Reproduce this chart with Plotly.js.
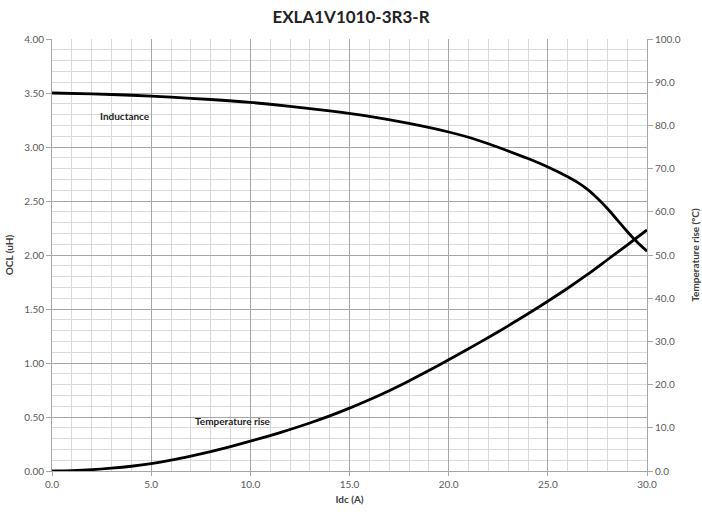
<!DOCTYPE html>
<html>
<head>
<meta charset="utf-8">
<script src="https://cdn.plot.ly/plotly-3.0.1.min.js"></script>
<style>html,body{margin:0;padding:0;background:#fff;}#chart{width:702px;height:514px;}</style>
</head>
<body>
<div id="chart"></div>
<script>
const idcInd = [0,2,4,6,8,10,12,14,16,18,20,21,22,23,24,25,26,26.5,27,27.5,28,28.5,29,29.5,30];
const inductance = [3.500,3.492,3.479,3.461,3.440,3.413,3.377,3.334,3.283,3.218,3.139,3.090,3.030,2.963,2.893,2.815,2.725,2.672,2.607,2.525,2.430,2.325,2.218,2.120,2.035];
const idcTemp = [0,1,2,3,4,5,6,7,8,9,10,11,12,13,14,15,16,17,18,19,20,21,22,23,24,25,26,27,28,29,30];
const tempRise = [0,0.1,0.3,0.65,1.1,1.7,2.5,3.45,4.5,5.65,6.9,8.2,9.6,11.1,12.75,14.55,16.5,18.6,20.85,23.25,25.75,28.3,30.9,33.6,36.4,39.3,42.3,45.5,48.9,52.3,55.8];
const titleText = "EXLA1V1010-3R3-R";
const xTitle = "Idc (A)";
const yTitle = "OCL (uH)";
const y2Title = "Temperature rise (ºC)";
const labelInd = "Inductance";
const labelTemp = "Temperature rise";

const FONT = "Lato, 'Open Sans', sans-serif";
const tickFont = {family: FONT, size: 10, color: "#595959"};
const titleFont = {family: FONT, size: 10, color: "#404040", weight: "bold"};

const traces = [
  {x: idcInd, y: inductance, type: "scatter", mode: "lines", line: {color: "#000", width: 2.8, shape: "spline", smoothing: 0.8}, yaxis: "y", hoverinfo: "skip"},
  {x: idcTemp, y: tempRise, type: "scatter", mode: "lines", line: {color: "#000", width: 2.8, shape: "spline", smoothing: 0.8}, yaxis: "y2", hoverinfo: "skip"}
];

const layout = {
  width: 702, height: 514,
  margin: {l: 52, r: 55, t: 39, b: 43},
  paper_bgcolor: "#fff", plot_bgcolor: "#fff",
  showlegend: false,
  title: {text: "<b>" + titleText + "</b>", font: {family: FONT, size: 17, color: "#222"}, x: 0.5, xanchor: "center", y: 0.967, yanchor: "middle"},
  xaxis: {
    range: [0, 30], dtick: 5, tick0: 0, tickformat: ".1f",
    showgrid: true, gridcolor: "#a6a6a6", gridwidth: 1,
    minor: {dtick: 1, showgrid: true, gridcolor: "#d9d9d9", gridwidth: 1},
    showline: true, linecolor: "#a6a6a6", linewidth: 1,
    ticks: "outside", ticklen: 4, tickcolor: "#a6a6a6",
    tickfont: tickFont, zeroline: false,
    title: {text: "<b>" + xTitle + "</b>", font: titleFont, standoff: 6}
  },
  yaxis: {
    range: [0, 4], dtick: 0.5, tick0: 0, tickformat: ".2f",
    showgrid: true, gridcolor: "#a6a6a6", gridwidth: 1,
    minor: {dtick: 0.1, showgrid: true, gridcolor: "#d9d9d9", gridwidth: 1},
    showline: true, linecolor: "#a6a6a6", linewidth: 1,
    ticks: "outside", ticklen: 5, tickcolor: "#a6a6a6",
    tickfont: tickFont, zeroline: false,
    title: {text: "<b>" + yTitle + "</b>", font: titleFont, standoff: 8}
  },
  yaxis2: {
    range: [0, 100], dtick: 10, tick0: 0, tickformat: ".1f",
    overlaying: "y", side: "right", showgrid: false, zeroline: false,
    showline: true, linecolor: "#a6a6a6", linewidth: 1,
    ticks: "outside", ticklen: 5, tickcolor: "#a6a6a6",
    tickfont: tickFont,
    title: {text: "<b>" + y2Title + "</b>", font: titleFont, standoff: 12}
  },
  annotations: [
    {x: 3.68, y: 3.284, xref: "x", yref: "y", text: "<b>" + labelInd + "</b>", showarrow: false, font: {family: FONT, size: 10, color: "#222"}},
    {x: 9.13, y: 0.46, xref: "x", yref: "y", text: "<b>" + labelTemp + "</b>", showarrow: false, font: {family: FONT, size: 10, color: "#222"}}
  ]
};

Plotly.newPlot("chart", traces, layout, {displayModeBar: false, staticPlot: true});
</script>
</body>
</html>
